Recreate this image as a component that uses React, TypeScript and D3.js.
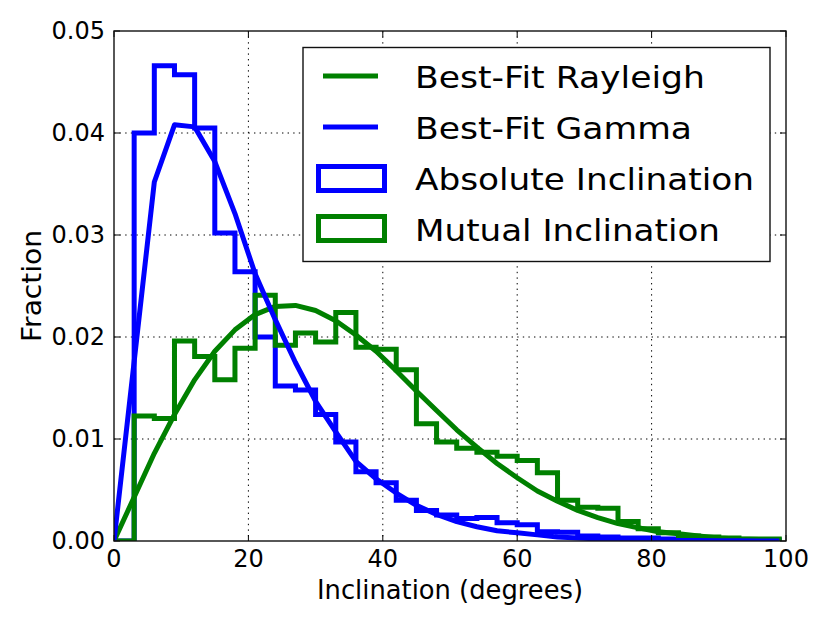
import React from 'react';
import * as d3 from 'd3';

// Histogram bin edges (degrees), bin width 3
const BIN_EDGES = [0, 3, 6, 9, 12, 15, 18, 21, 24, 27, 30, 33, 36, 39, 42, 45, 48, 51, 54, 57, 60, 63, 66, 69, 72, 75, 78, 81, 84, 87, 90, 93, 96, 99];

// Absolute inclination histogram (blue)
const ABS_HIST = [0, 0.0400, 0.0466, 0.0457, 0.0405, 0.0302, 0.0264, 0.0200, 0.0152, 0.0148, 0.0124, 0.0097, 0.0068, 0.0057, 0.0040, 0.0030, 0.00255, 0.0022, 0.0023, 0.0018, 0.0016, 0.0009, 0.00085, 0.0005, 0.0004, 0.0003, 0.0003, 0.0002, 0.0002, 0.0001, 0.0001, 0.0001, 0.0001];

// Mutual inclination histogram (green)
const MUT_HIST = [0, 0.01225, 0.0120, 0.0196, 0.0181, 0.0158, 0.0189, 0.0241, 0.0192, 0.0204, 0.0195, 0.0224, 0.0190, 0.0188, 0.0168, 0.0115, 0.0097, 0.0091, 0.0087, 0.0083, 0.0079, 0.0067, 0.0040, 0.0033, 0.0032, 0.0019, 0.0012, 0.0008, 0.0005, 0.0004, 0.0003, 0.0002, 0.0002];

// Fitted curves sample points
const CURVE_X = [0, 6, 9, 12, 15, 18, 21, 24, 27, 30, 33, 36, 39, 42, 45, 48, 51, 54, 57, 60, 63, 66, 69, 72, 75, 78, 81, 84, 87, 90, 93, 96, 99];
const RAYLEIGH_Y = [0, 0.0086, 0.0124, 0.0158, 0.0186, 0.0207, 0.0222, 0.0230, 0.0231, 0.0226, 0.0216, 0.0202, 0.0186, 0.0167, 0.0147, 0.0128, 0.0109, 0.0092, 0.0076, 0.0062, 0.0049, 0.0039, 0.0030, 0.0023, 0.0017, 0.0013, 0.0009, 0.0007, 0.0005, 0.0003, 0.0002, 0.00015, 0.0001];
const GAMMA_Y = [0, 0.0352, 0.0408, 0.0406, 0.0372, 0.0321, 0.0262, 0.0217, 0.0175, 0.0137, 0.0107, 0.0078, 0.0061, 0.0047, 0.0035, 0.0026, 0.0019, 0.0014, 0.0010, 0.0008, 0.0006, 0.0004, 0.0003, 0.0002, 0.00015, 0.0001, 0.00008, 0.00006, 0.00004, 0.00003, 0.00002, 0.00001, 0.00001];

const X_TICKS = [0, 20, 40, 60, 80, 100];
const Y_TICKS = [0, 0.01, 0.02, 0.03, 0.04, 0.05];

const LEGEND_LABELS = ['Best-Fit Rayleigh', 'Best-Fit Gamma', 'Absolute Inclination', 'Mutual Inclination'];
const LEGEND_KINDS = ['line', 'line', 'rect', 'rect'];
const LEGEND_COLORS = ['#008000', '#0000ff', '#0000ff', '#008000'];
const LEGEND_TEXT_LEN = [290, 277, 339, 305];

const FONT = "'DejaVu Sans', sans-serif";

export default function App() {
  const W = 830, H = 623;
  const L = 114, R = 786, T = 31, B = 541;
  const x = d3.scaleLinear().domain([0, 100]).range([L, R]);
  const y = d3.scaleLinear().domain([0, 0.05]).range([B, T]);

  const stepPath = (vals: number[]) => {
    const pts: [number, number][] = [[BIN_EDGES[0], 0]];
    vals.forEach((v, i) => {
      pts.push([BIN_EDGES[i], v]);
      pts.push([BIN_EDGES[i + 1], v]);
    });
    pts.push([BIN_EDGES[vals.length], 0]);
    return d3.line()(pts.map(([a, b]) => [x(a), y(b)] as [number, number])) || '';
  };
  const curvePath = (ys: number[]) =>
    d3.line()(CURVE_X.map((xv, i) => [x(xv), y(ys[i])] as [number, number])) || '';

  const tickLen = 6;
  const legendRows = [88, 139, 190, 241];
  const legendHandleY = [76, 127, 178, 228];

  return (
    <svg width={W} height={H} style={{ position: 'absolute', left: 0, top: 0, background: '#fff' }}
      xmlns="http://www.w3.org/2000/svg">
      <defs>
        <clipPath id="plot">
          <rect x={L} y={T} width={R - L} height={B - T} />
        </clipPath>
      </defs>
      <rect x={0} y={0} width={W} height={H} fill="#fff" />
      {/* grid */}
      <g stroke="#000" strokeWidth={1} strokeDasharray="1.4,4.2">
        {X_TICKS.slice(1, -1).map(t => (
          <line key={'gx' + t} x1={x(t)} x2={x(t)} y1={T} y2={B} />
        ))}
        {Y_TICKS.slice(1, -1).map(t => (
          <line key={'gy' + t} x1={L} x2={R} y1={y(t)} y2={y(t)} />
        ))}
      </g>
      {/* data */}
      <g clipPath="url(#plot)" fill="none">
        <path d={stepPath(ABS_HIST)} stroke="#0000ff" strokeWidth={5} strokeLinejoin="miter" />
        <path d={stepPath(MUT_HIST)} stroke="#008000" strokeWidth={5} strokeLinejoin="miter" />
        <path d={curvePath(RAYLEIGH_Y)} stroke="#008000" strokeWidth={5} strokeLinejoin="round" />
        <path d={curvePath(GAMMA_Y)} stroke="#0000ff" strokeWidth={5} strokeLinejoin="round" />
      </g>
      {/* ticks */}
      <g stroke="#000" strokeWidth={1}>
        {X_TICKS.map(t => (
          <g key={'tx' + t}>
            <line x1={x(t)} x2={x(t)} y1={B} y2={B - tickLen} />
            <line x1={x(t)} x2={x(t)} y1={T} y2={T + tickLen} />
          </g>
        ))}
        {Y_TICKS.map(t => (
          <g key={'ty' + t}>
            <line x1={L} x2={L + tickLen} y1={y(t)} y2={y(t)} />
            <line x1={R} x2={R - tickLen} y1={y(t)} y2={y(t)} />
          </g>
        ))}
      </g>
      {/* spines */}
      <rect x={L} y={T} width={R - L} height={B - T} fill="none" stroke="#111" strokeWidth={1.4} />
      {/* tick labels */}
      <g fontFamily={FONT} fontSize={24} fill="#000">
        {X_TICKS.map(t => (
          <text key={'lx' + t} x={x(t)} y={567} textAnchor="middle">{d3.format('d')(t)}</text>
        ))}
        {Y_TICKS.map(t => (
          <text key={'ly' + t} x={105} y={y(t)} textAnchor="end" dominantBaseline="central">{d3.format('.2f')(t)}</text>
        ))}
      </g>
      {/* axis labels */}
      <text x={(L + R) / 2} y={599} textAnchor="middle" fontFamily={FONT} fontSize={26}
        textLength={266} lengthAdjust="spacingAndGlyphs">Inclination (degrees)</text>
      <text transform={`translate(41,${(T + B) / 2}) rotate(-90)`} textAnchor="middle" fontFamily={FONT}
        fontSize={26} textLength={112} lengthAdjust="spacingAndGlyphs">Fraction</text>
      {/* legend */}
      <g>
        <rect x={303} y={47.5} width={467} height={214} fill="#fff" stroke="#111" strokeWidth={1.4} />
        {LEGEND_LABELS.map((lab, i) => (
          <g key={lab}>
            {LEGEND_KINDS[i] === 'line' ? (
              <line x1={323} x2={378} y1={legendHandleY[i]} y2={legendHandleY[i]} stroke={LEGEND_COLORS[i]} strokeWidth={5} />
            ) : (
              <rect x={318.5} y={legendHandleY[i] - 11.5} width={66} height={24} fill="#fff" stroke={LEGEND_COLORS[i]} strokeWidth={5} />
            )}
            <text x={415} y={legendRows[i]} fontFamily={FONT} fontSize={30} textLength={LEGEND_TEXT_LEN[i]}
              lengthAdjust="spacingAndGlyphs">{lab}</text>
          </g>
        ))}
      </g>
    </svg>
  );
}
